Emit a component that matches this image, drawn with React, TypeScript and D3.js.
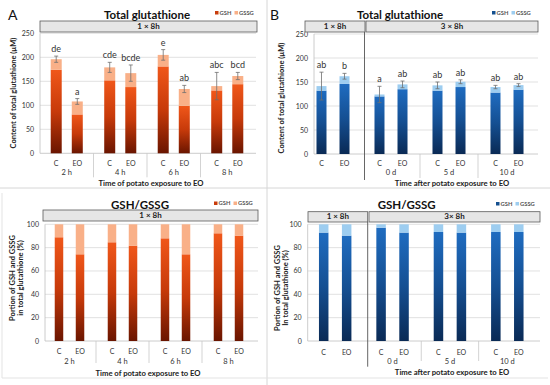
import React from "react";
import * as d3 from "d3";

// ---------- DATA ----------
const catsAll = ["C", "EO", "C", "EO", "C", "EO", "C", "EO"];
const groupsA = ["2 h", "4 h", "6 h", "8 h"];
const groupsB = ["", "0 d", "5 d", "10 d"];

const gshA = [174, 81, 152, 138, 181, 99, 131, 144];
const gssgA = [22, 27, 27, 29, 24, 35, 9, 17];
const errA = [6.5, 6, 10.5, 17, 11, 7.5, 28.5, 7.5];
const lettersA = ["de", "a", "cde", "bcde", "e", "ab", "abc", "bcd"];

const gshB = [132, 146, 120, 135, 132, 139.5, 128, 134];
const gssgB = [9.5, 16, 4, 10, 11, 11, 11.5, 9.5];
const errB = [29, 6, 17, 7, 7, 4, 3.5, 3];
const lettersB = ["ab", "b", "a", "ab", "ab", "ab", "ab", "ab"];

const gshPctC = [88.9, 74.3, 84.6, 81.7, 88, 74.3, 92.3, 90.3];
const gshPctD = [92.9, 90.3, 97.1, 92.9, 93.4, 92.9, 93.4, 93.4];

const ticksTotal = [0, 50, 100, 150, 200, 250];
const ticksPct = [0, 20, 40, 60, 80, 100];

const FONT = "Lato, 'Open Sans', 'Liberation Sans', sans-serif";
const TXT = "#333";

type Strip = { x0: number; x1: number; label: string };

type PanelProps = {
  axisX: number;
  right: number;
  groupRange: [number, number];
  pad: number;
  yBottom: number;
  yTop: number;
  yMax: number;
  ticks: number[];
  bw: number;
  gsh: number[];
  gssg: number[];
  err?: number[];
  letters?: string[];
  groups: string[];
  gradId: string;
  light: string;
  dark: string;
  title: string;
  titleX: number;
  titleY: number;
  legendX: number;
  legendY: number;
  strips: Strip[];
  stripY0: number;
  stripY1: number;
  yTitle: string[];
  yTitleX: number;
  yTitleY: number;
  axisTitle: string;
  axisTitleX: number;
  axisTitleY: number;
  catY: number;
  groupY: number;
  bigSep?: { x: number; y0: number; y1: number };
  sepLen: number;
};

function Panel(p: PanelProps) {
  const y = d3.scaleLinear().domain([0, p.yMax]).range([p.yBottom, p.yTop]);
  const gIdx = p.groups.map((_, i) => String(i));
  const gx = d3.scaleBand().domain(gIdx).range(p.groupRange).padding(0);
  const inner = d3
    .scalePoint()
    .domain(["0", "1"])
    .range([0, gx.bandwidth()])
    .padding(p.pad);
  const cx = (i: number) =>
    (gx(String(Math.floor(i / 2))) as number) + (inner(String(i % 2)) as number);

  return (
    <g fontFamily={FONT}>
      {p.ticks.map((t) =>
        t > 0 ? (
          <line key={"g" + t} x1={p.axisX} x2={p.right} y1={y(t)} y2={y(t)} stroke="#d9d9d9" strokeWidth={0.8} />
        ) : null
      )}
      <line x1={p.axisX} x2={p.axisX} y1={y(p.yMax)} y2={y(0)} stroke="#bfbfbf" strokeWidth={0.8} />
      <line x1={p.axisX} x2={p.right} y1={y(0)} y2={y(0)} stroke="#bfbfbf" strokeWidth={0.8} />
      {p.ticks.map((t) => (
        <text key={"t" + t} x={p.axisX - 6} y={y(t) + 2.5} textAnchor="end" fontSize={7} fill={TXT}>
          {t}
        </text>
      ))}
      {p.gsh.map((v, i) => {
        const c = cx(i);
        const top = v + p.gssg[i];
        return (
          <g key={"b" + i}>
            <rect x={c - p.bw / 2} width={p.bw} y={y(v)} height={y(0) - y(v)} fill={`url(#${p.gradId})`} />
            <rect x={c - p.bw / 2} width={p.bw} y={y(top)} height={y(v) - y(top)} fill={p.light} />
          </g>
        );
      })}
      {p.err &&
        p.gsh.map((v, i) => {
          const c = cx(i);
          const top = v + p.gssg[i];
          const e = p.err![i];
          return (
            <g key={"e" + i} stroke="#6e6e6e" strokeWidth={0.8}>
              <line x1={c} x2={c} y1={y(top + e)} y2={y(top - e)} />
              <line x1={c - 2} x2={c + 2} y1={y(top + e)} y2={y(top + e)} />
              <line x1={c - 2} x2={c + 2} y1={y(top - e)} y2={y(top - e)} />
              <text x={c} y={y(top + e) - 4} textAnchor="middle" fontSize={9} fill={TXT} stroke="none">
                {p.letters![i]}
              </text>
            </g>
          );
        })}
      {catsAll.map((c, i) => (
        <text key={"c" + i} x={cx(i)} y={p.catY} textAnchor="middle" fontSize={7} fill={TXT}>
          {c}
        </text>
      ))}
      {p.groups.map((g, i) => (
        <text
          key={"gl" + i}
          x={(gx(String(i)) as number) + gx.bandwidth() / 2}
          y={p.groupY}
          textAnchor="middle"
          fontSize={7.5}
          fill={TXT}
        >
          {g}
        </text>
      ))}
      {p.groups.slice(1).map((_, k) => {
        const x = gx(String(k + 1)) as number;
        if (p.bigSep && k === 0) return null;
        return <line key={"s" + k} x1={x} x2={x} y1={y(0)} y2={y(0) + p.sepLen} stroke="#c8c8c8" strokeWidth={0.8} />;
      })}
      {p.bigSep && (
        <line x1={p.bigSep.x} x2={p.bigSep.x} y1={p.bigSep.y0} y2={p.bigSep.y1} stroke="#555" strokeWidth={0.9} />
      )}
      {p.strips.map((s, i) => (
        <g key={"st" + i}>
          <rect x={s.x0} y={p.stripY0} width={s.x1 - s.x0} height={p.stripY1 - p.stripY0} fill="#e6e6e6" stroke="#5a5a5a" strokeWidth={0.8} />
          <text x={(s.x0 + s.x1) / 2} y={p.stripY1 - 2.6} textAnchor="middle" fontSize={8} fontWeight="bold" fill="#222">
            {s.label}
          </text>
        </g>
      ))}
      <text x={p.titleX} y={p.titleY} textAnchor="middle" fontSize={11.5} fontWeight="bold" fill="#111">
        {p.title}
      </text>
      <g fontSize={5.8} fontWeight="bold" fill="#555">
        <rect x={p.legendX} y={p.legendY - 2} width={3.5} height={3.5} fill={p.dark} />
        <text x={p.legendX + 4.5} y={p.legendY + 1.8}>GSH</text>
        <rect x={p.legendX + 19.5} y={p.legendY - 2} width={3.5} height={3.5} fill={p.light} />
        <text x={p.legendX + 24} y={p.legendY + 1.8}>GSSG</text>
      </g>
      {p.yTitle.map((line, i) => (
        <text
          key={"yt" + i}
          transform={`translate(${p.yTitleX + i * 8.2},${p.yTitleY}) rotate(-90)`}
          textAnchor="middle"
          fontSize={7.5}
          fontWeight="bold"
          fill="#222"
        >
          {line}
        </text>
      ))}
      <text x={p.axisTitleX} y={p.axisTitleY} textAnchor="middle" fontSize={7.7} fontWeight="bold" fill="#222">
        {p.axisTitle}
      </text>
    </g>
  );
}

export default function App() {
  const pctC = gshPctC.map((v) => 100 - v);
  const pctD = gshPctD.map((v) => 100 - v);
  return (
    <svg width={550} height={385} style={{ position: "absolute", left: 0, top: 0, background: "#fff" }}>
      <defs>
        <linearGradient id="gOr" x1="0" y1="0" x2="0" y2="1">
          <stop offset="0" stopColor="#f0571a" />
          <stop offset="0.5" stopColor="#c73a0a" />
          <stop offset="1" stopColor="#6a1500" />
        </linearGradient>
        <linearGradient id="gBl" x1="0" y1="0" x2="0" y2="1">
          <stop offset="0" stopColor="#1f6cc0" />
          <stop offset="0.5" stopColor="#154f92" />
          <stop offset="1" stopColor="#0a2a55" />
        </linearGradient>
      </defs>
      <rect x={0} y={0} width={550} height={385} fill="#fff" />
      <line x1={267} x2={267} y1={0} y2={385} stroke="#d6d6d6" strokeWidth={1} />
      <line x1={0} x2={550} y1={188} y2={188} stroke="#d6d6d6" strokeWidth={1} />
      <line x1={2} x2={2} y1={193} y2={378} stroke="#e3e3e3" strokeWidth={1} />
      <line x1={2} x2={548} y1={378} y2={378} stroke="#e3e3e3" strokeWidth={1} />

      <text x={8} y={20} fontSize={14} fontFamily={FONT} fill="#111">A</text>
      <text x={270} y={20} fontSize={14} fontFamily={FONT} fill="#111">B</text>

      <Panel
        axisX={40} right={256} groupRange={[40, 254]} pad={0.77}
        yBottom={153.3} yTop={33.3} yMax={250} ticks={ticksTotal} bw={11}
        gsh={gshA} gssg={gssgA} err={errA} letters={lettersA} groups={groupsA}
        gradId="gOr" light="#f9b088" dark="#c83c0c"
        title="Total glutathione" titleX={147} titleY={18.5}
        legendX={215} legendY={13}
        strips={[{ x0: 40, x1: 257, label: "1 × 8h" }]} stripY0={21} stripY1={32}
        yTitle={["Content of total glutathione (µM)"]} yTitleX={15.5} yTitleY={93}
        axisTitle="Time of potato exposure to EO" axisTitleX={151} axisTitleY={186}
        catY={165.5} groupY={174.5} sepLen={24}
      />
      <Panel
        axisX={314} right={538} groupRange={[304, 536]} pad={0.76}
        yBottom={154} yTop={34} yMax={250} ticks={ticksTotal} bw={10}
        gsh={gshB} gssg={gssgB} err={errB} letters={lettersB} groups={groupsB}
        gradId="gBl" light="#9dcdf0" dark="#15508f"
        title="Total glutathione" titleX={400} titleY={18.5}
        legendX={492} legendY={13}
        strips={[
          { x0: 305, x1: 365, label: "1 × 8h" },
          { x0: 366, x1: 538, label: "3 × 8h" },
        ]}
        stripY0={21} stripY1={32}
        yTitle={["Content of total glutathione (µM)"]} yTitleX={284} yTitleY={98}
        axisTitle="Time after potato exposure to EO" axisTitleX={452} axisTitleY={186}
        catY={165.5} groupY={174.5} sepLen={24}
        bigSep={{ x: 364.5, y0: 32, y1: 180 }}
      />
      <Panel
        axisX={45} right={258} groupRange={[43, 255]} pad={0.76}
        yBottom={341} yTop={224.3} yMax={100} ticks={ticksPct} bw={8.5}
        gsh={gshPctC} gssg={pctC} groups={groupsA}
        gradId="gOr" light="#f9b088" dark="#c83c0c"
        title="GSH/GSSG" titleX={140} titleY={208.5}
        legendX={214} legendY={203.5}
        strips={[{ x0: 43, x1: 258, label: "1 × 8h" }]} stripY0={210} stripY1={221}
        yTitle={["Portion of GSH and GSSG", "in total glutathione (%)"]} yTitleX={14.5} yTitleY={278}
        axisTitle="Time of potato exposure to EO" axisTitleX={148} axisTitleY={375.5}
        catY={354} groupY={363.5} sepLen={22}
      />
      <Panel
        axisX={307.7} right={540} groupRange={[306.5, 536]} pad={0.75}
        yBottom={341} yTop={224.3} yMax={100} ticks={ticksPct} bw={9.5}
        gsh={gshPctD} gssg={pctD} groups={groupsB}
        gradId="gBl" light="#9dcdf0" dark="#15508f"
        title="GSH/GSSG" titleX={406.7} titleY={209}
        legendX={496} legendY={204}
        strips={[
          { x0: 308, x1: 367.7, label: "1 × 8h" },
          { x0: 369, x1: 540, label: "3× 8h" },
        ]}
        stripY0={211.7} stripY1={222}
        yTitle={["Portion of GSH and GSSG", "In total glutathione (%)"]} yTitleX={279.5} yTitleY={288}
        axisTitle="Time after potato exposure to EO" axisTitleX={452} axisTitleY={375}
        catY={354.5} groupY={363.5} sepLen={20}
        bigSep={{ x: 367.7, y0: 222, y1: 366.7 }}
      />
    </svg>
  );
}
